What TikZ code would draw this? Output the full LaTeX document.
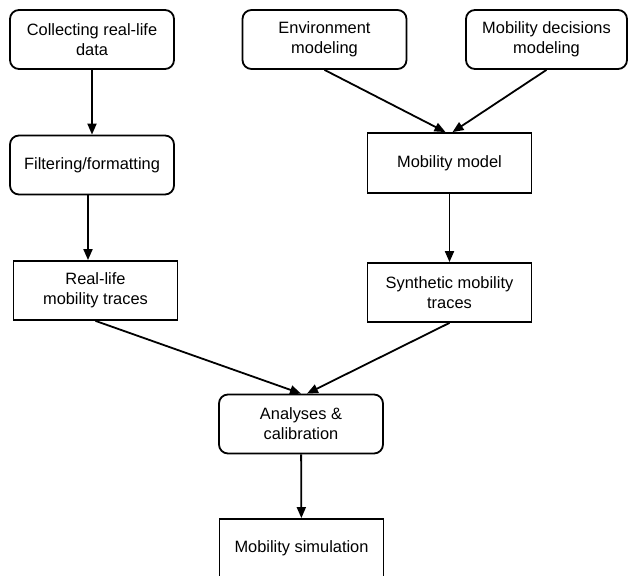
\documentclass[tikz,border=0pt]{standalone}
\usepackage{fontspec}
\setmainfont{Liberation Sans}
\usetikzlibrary{arrows.meta}
\begin{document}
\begin{tikzpicture}[x=0.5pt,y=-0.5pt,line width=0.9pt,
    every node/.style={draw,align=center,inner sep=0pt,font=\fontsize{8.2}{10}\selectfont,
      minimum width=82pt,minimum height=29.5pt},
    roundbox/.style={rounded corners=4.5pt},
    arr/.style={-{Triangle[length=5.5pt,width=4.5pt]}}]
  \clip (0,0) rectangle (628,576);
  % top row
  \node[roundbox] (collect) at (92,39.5) {Collecting real-life\\data};
  \node[roundbox] (env) at (324.5,39.5) {Environment\\modeling};
  \node[roundbox,minimum width=80.5pt] (decide) at (546.5,39.5) {Mobility decisions\\modeling};
  % middle
  \node[roundbox] (filter) at (92,165) {Filtering/formatting};
  \node[minimum height=30pt] (model) at (449.5,163) {Mobility model};
  \node (real) at (95.5,290.5) {Real-life\\mobility traces};
  \node (synth) at (449.5,292.5) {Synthetic mobility\\traces};
  % bottom
  \node[roundbox] (analyse) at (301,424) {Analyses \&\\calibration};
  \node (sim) at (301.5,548.5) {Mobility simulation};
  % arrows
  \draw[arr] (collect) -- (filter);
  \draw[arr] ([xshift=-2pt]filter.south) -- ([xshift=-2pt]filter.south |- real.north);
  \draw[arr] (env.south) -- ([xshift=-2pt]model.north);
  \draw[arr] (decide.south) -- ([xshift=1.5pt]model.north);
  \draw[arr] (model) -- (synth);
  \draw[arr] (real.south) -- (analyse.north);
  \draw[arr] (synth.south) -- ([xshift=3pt]analyse.north);
  \draw[arr] (analyse) -- (sim);
\end{tikzpicture}
\end{document}
